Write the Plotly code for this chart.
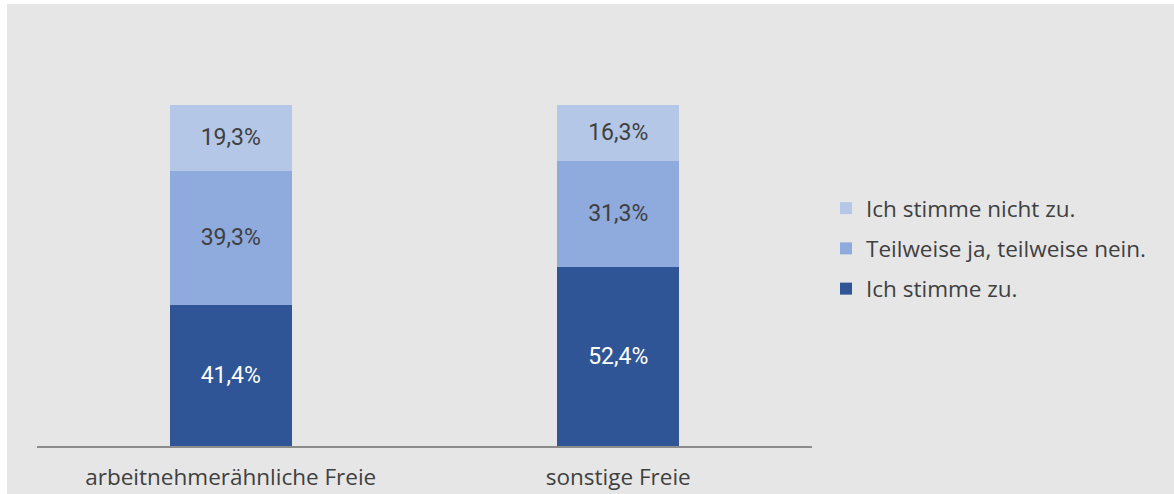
import plotly.graph_objects as go

categories = ["arbeitnehmerähnliche Freie", "sonstige Freie"]
series_names = ["Ich stimme zu.", "Teilweise ja, teilweise nein.", "Ich stimme nicht zu."]
values_zu = [41.4, 52.4]
values_teils = [39.3, 31.3]
values_nicht = [19.3, 16.3]
colors = ["#2f5597", "#8faadc", "#b4c7e7"]
text_colors = ["#ffffff", "#404040", "#404040"]
legend_ranks = [3, 2, 1]

def fmt(v):
    return f"{v:.1f}%".replace(".", ",")

fig = go.Figure()
for name, vals, col, tcol, rank in zip(series_names, [values_zu, values_teils, values_nicht],
                                       colors, text_colors, legend_ranks):
    fig.add_trace(go.Bar(
        x=categories, y=vals, name=name,
        marker=dict(color=col, line=dict(width=0)),
        text=[fmt(v) for v in vals], textposition="inside",
        insidetextanchor="middle", textangle=0,
        textfont=dict(color=tcol, size=23, family="Roboto"),
        hoverinfo="skip", legendgroup=name, legendrank=rank,
    ))

L, R, T, B = 37, 812, 105, 446
W, H = 1174, 494
pw, ph = R - L, B - T

def px2x(p):
    return (p - L) / pw

def py2y(p):
    return (B - p) / ph

fig.add_shape(type="rect", xref="paper", yref="paper",
              x0=px2x(7), x1=px2x(W + 5), y0=py2y(4), y1=py2y(H + 5),
              fillcolor="#e6e6e6", line=dict(width=0), layer="below")

fig.update_layout(
    width=W, height=H,
    margin=dict(l=L, r=W - R, t=T, b=H - B, autoexpand=False),
    barmode="stack", bargap=0.685,
    paper_bgcolor="#ffffff", plot_bgcolor="rgba(0,0,0,0)",
    font=dict(family="Open Sans", color="#404040", size=22.5),
    showlegend=True,
    legend=dict(traceorder="grouped", x=px2x(826), xanchor="left",
                y=py2y(187), yanchor="top",
                font=dict(size=22.5, color="#404040", family="Open Sans"),
                tracegroupgap=8, bgcolor="rgba(0,0,0,0)"),
    xaxis=dict(showline=True, linecolor="#8c8c8c", linewidth=2, ticks="",
               ticklabelstandoff=10, automargin=False,
               tickfont=dict(size=22.5, color="#404040", family="Open Sans"),
               showgrid=False, zeroline=False),
    yaxis=dict(range=[0, 100], visible=False, showgrid=False, zeroline=False, automargin=False),
)

fig.write_html("out.html", config={"displayModeBar": False},
               post_script="document.body.style.margin='0';document.body.style.overflow='hidden';")
